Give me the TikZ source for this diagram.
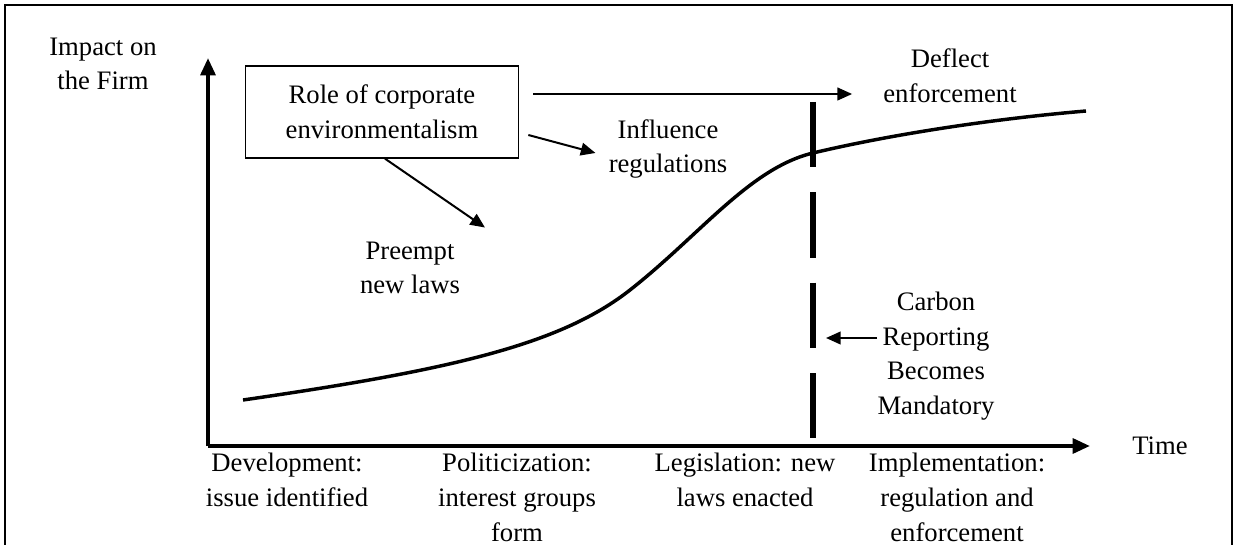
\documentclass[tikz,border=0pt]{standalone}
\usepackage{fontspec}
\setmainfont{Liberation Serif}
\usetikzlibrary{positioning,arrows.meta,calc}

\begin{document}
\begin{tikzpicture}[
   x=0.75pt, y=-0.75pt,
   lbl/.style={align=center, font=\fontsize{20}{26}\selectfont, inner sep=0pt},
   axis/.style={line width=3pt, -{Triangle[length=13pt,width=11pt]}},
   pointer/.style={line width=1.5pt, -{Triangle[length=11pt,width=9.5pt]}},
   role/.style={draw, line width=1pt, minimum width=205pt, minimum height=69pt, lbl},
   mandate/.style={line width=4.8pt, dash pattern=on 49pt off 18.75pt},
   ]
  \useasboundingbox (0,0) rectangle (1238,545);
  \draw[line width=1.1pt] (5,560) -- (5,5) -- (1232,5) -- (1232,560);
  % axes
  \coordinate (origin) at (208,446);
  \coordinate (ytop) at (208,58);
  \coordinate (xend) at (1090,446);
  \draw[axis] (origin) -- (ytop);
  \draw[axis] (origin) -- (xend);
  \node[lbl] (impact) at (103,64) {Impact on\\the Firm};
  \node[lbl] (time) at (1160,446) {Time};
  % adoption curve
  \draw[line width=2.6pt] (243,400) .. controls (450,370) and (560,345) .. (630,290)
    .. controls (700,235) and (750,168) .. (813,153)
    .. controls (880,137) and (980,120) .. (1086,111);
  % mandatory reporting
  \coordinate (mtop) at (813,102);
  \coordinate (mbot) at (813,439);
  \draw[mandate] (mtop) -- (mbot);
  % strategies
  \node[role] (role) at (382,112) {Role of corporate\\environmentalism};
  \node[lbl] (deflect) at (950,76) {Deflect\\enforcement};
  \node[lbl] (influence) at (668,149) {Influence\\regulations};
  \node[lbl] (preempt) at (410,268) {Preempt\\new laws};
  \node[lbl] (carbon) at (936,356) {Carbon\\Reporting\\Becomes\\Mandatory};
  \coordinate (report) at ([shift={(0,-18)}]carbon.west);
  \draw[pointer] ([shift={(14,-18)}]role.east) -- ([shift={(-31,18)}]deflect.west);
  \draw[pointer] ([shift={(9,23)}]role.east) -- ([shift={(-13,4)}]influence.west);
  \draw[pointer] ([shift={(3,0)}]role.south) -- ([shift={(75,-14)}]preempt.north);
  \draw[pointer] (report) -- ($(report -| mtop)+(13,0)$);
  % phases
  \node[lbl, anchor=north] (develop) at (287,453) {Development:\\issue identified};
  \node[lbl, anchor=north] (politic) at (517,453) {Politicization:\\interest groups\\form};
  \node[lbl, anchor=north] (legis) at (745,453) {Legislation: new\\laws enacted};
  \node[lbl, anchor=north] (implement) at (957,453) {Implementation:\\regulation and\\enforcement};
\end{tikzpicture}
\end{document}
